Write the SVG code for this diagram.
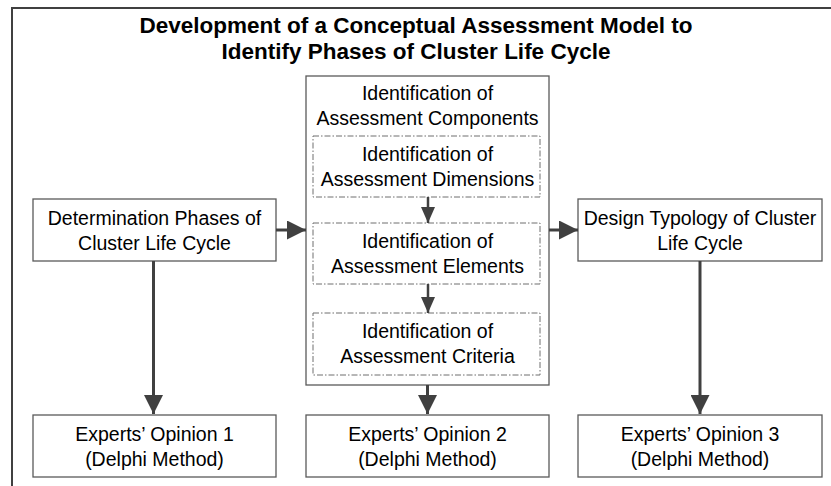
<svg xmlns="http://www.w3.org/2000/svg" width="831" height="486" viewBox="0 0 831 486">
<style>
.t{font-family:"Liberation Sans",Arial,sans-serif;font-size:19.5px;fill:#000;text-anchor:middle}
.h{font-family:"Liberation Sans",Arial,sans-serif;font-size:22.5px;font-weight:bold;fill:#000;text-anchor:middle}
.box{fill:#fff;stroke:#5a5a5a;stroke-width:1.3}
.dbox{fill:#fff;stroke:#6e6e6e;stroke-width:1;stroke-dasharray:6 2 1.5 2}
.c{stroke:#404040;stroke-width:3;fill:none}
.cs{stroke:#404040;stroke-width:2.5;fill:none}
</style>
<defs>
<marker id="a" markerUnits="userSpaceOnUse" markerWidth="19" markerHeight="19" viewBox="0 0 19 19" refX="19" refY="9.5" orient="auto"><path d="M0,0 L19,9.5 L0,19 Z" fill="#404040"/></marker>
<marker id="s" markerUnits="userSpaceOnUse" markerWidth="16" markerHeight="14" viewBox="0 0 16 14" refX="16" refY="7" orient="auto"><path d="M0,0 L16,7 L0,14 Z" fill="#404040"/></marker>
</defs>
<rect x="12" y="8" width="840" height="500" fill="#fff" stroke="#404040" stroke-width="2"/>
<g id="title">
<text class="h" x="416" y="33">Development of a Conceptual Assessment Model to</text>
<text class="h" x="416" y="59">Identify Phases of Cluster Life Cycle</text>
</g>
<g id="components">
<rect class="box" x="306" y="76" width="243" height="309"/>
<text class="t" x="427.5" y="100">Identification of</text>
<text class="t" x="427.5" y="125">Assessment Components</text>
</g>
<g id="dimensions">
<rect class="dbox" x="313" y="136" width="227" height="61"/>
<text class="t" x="427.5" y="161">Identification of</text>
<text class="t" x="427.5" y="186">Assessment Dimensions</text>
</g>
<g id="elements">
<rect class="dbox" x="313" y="223" width="227" height="61"/>
<text class="t" x="427.5" y="248">Identification of</text>
<text class="t" x="427.5" y="273">Assessment Elements</text>
</g>
<g id="criteria">
<rect class="dbox" x="313" y="313" width="227" height="62"/>
<text class="t" x="427.5" y="338">Identification of</text>
<text class="t" x="427.5" y="363">Assessment Criteria</text>
</g>
<g id="phases">
<rect class="box" x="33" y="199" width="243" height="62"/>
<text class="t" x="154.5" y="225">Determination Phases of</text>
<text class="t" x="154.5" y="250">Cluster Life Cycle</text>
</g>
<g id="typology">
<rect class="box" x="578" y="199" width="244" height="62"/>
<text class="t" x="700" y="225">Design Typology of Cluster</text>
<text class="t" x="700" y="250">Life Cycle</text>
</g>
<g id="expert1">
<rect class="box" x="33" y="415" width="243" height="62"/>
<text class="t" x="154.5" y="441">Experts’ Opinion 1</text>
<text class="t" x="154.5" y="466">(Delphi Method)</text>
</g>
<g id="expert2">
<rect class="box" x="306" y="415" width="243" height="62"/>
<text class="t" x="427.5" y="441">Experts’ Opinion 2</text>
<text class="t" x="427.5" y="466">(Delphi Method)</text>
</g>
<g id="expert3">
<rect class="box" x="578" y="415" width="244" height="62"/>
<text class="t" x="700" y="441">Experts’ Opinion 3</text>
<text class="t" x="700" y="466">(Delphi Method)</text>
</g>
<g id="connectors">
<line class="c" x1="276" y1="230" x2="306" y2="230" marker-end="url(#a)"/>
<line class="c" x1="549" y1="230" x2="578" y2="230" marker-end="url(#a)"/>
<line class="c" x1="153.5" y1="261" x2="153.5" y2="414" marker-end="url(#a)"/>
<line class="c" x1="427.5" y1="385" x2="427.5" y2="414" marker-end="url(#a)"/>
<line class="c" x1="700" y1="261" x2="700" y2="414" marker-end="url(#a)"/>
<line class="cs" x1="428" y1="197" x2="428" y2="223" marker-end="url(#s)"/>
<line class="cs" x1="428" y1="284" x2="428" y2="313" marker-end="url(#s)"/>
</g>
</svg>
